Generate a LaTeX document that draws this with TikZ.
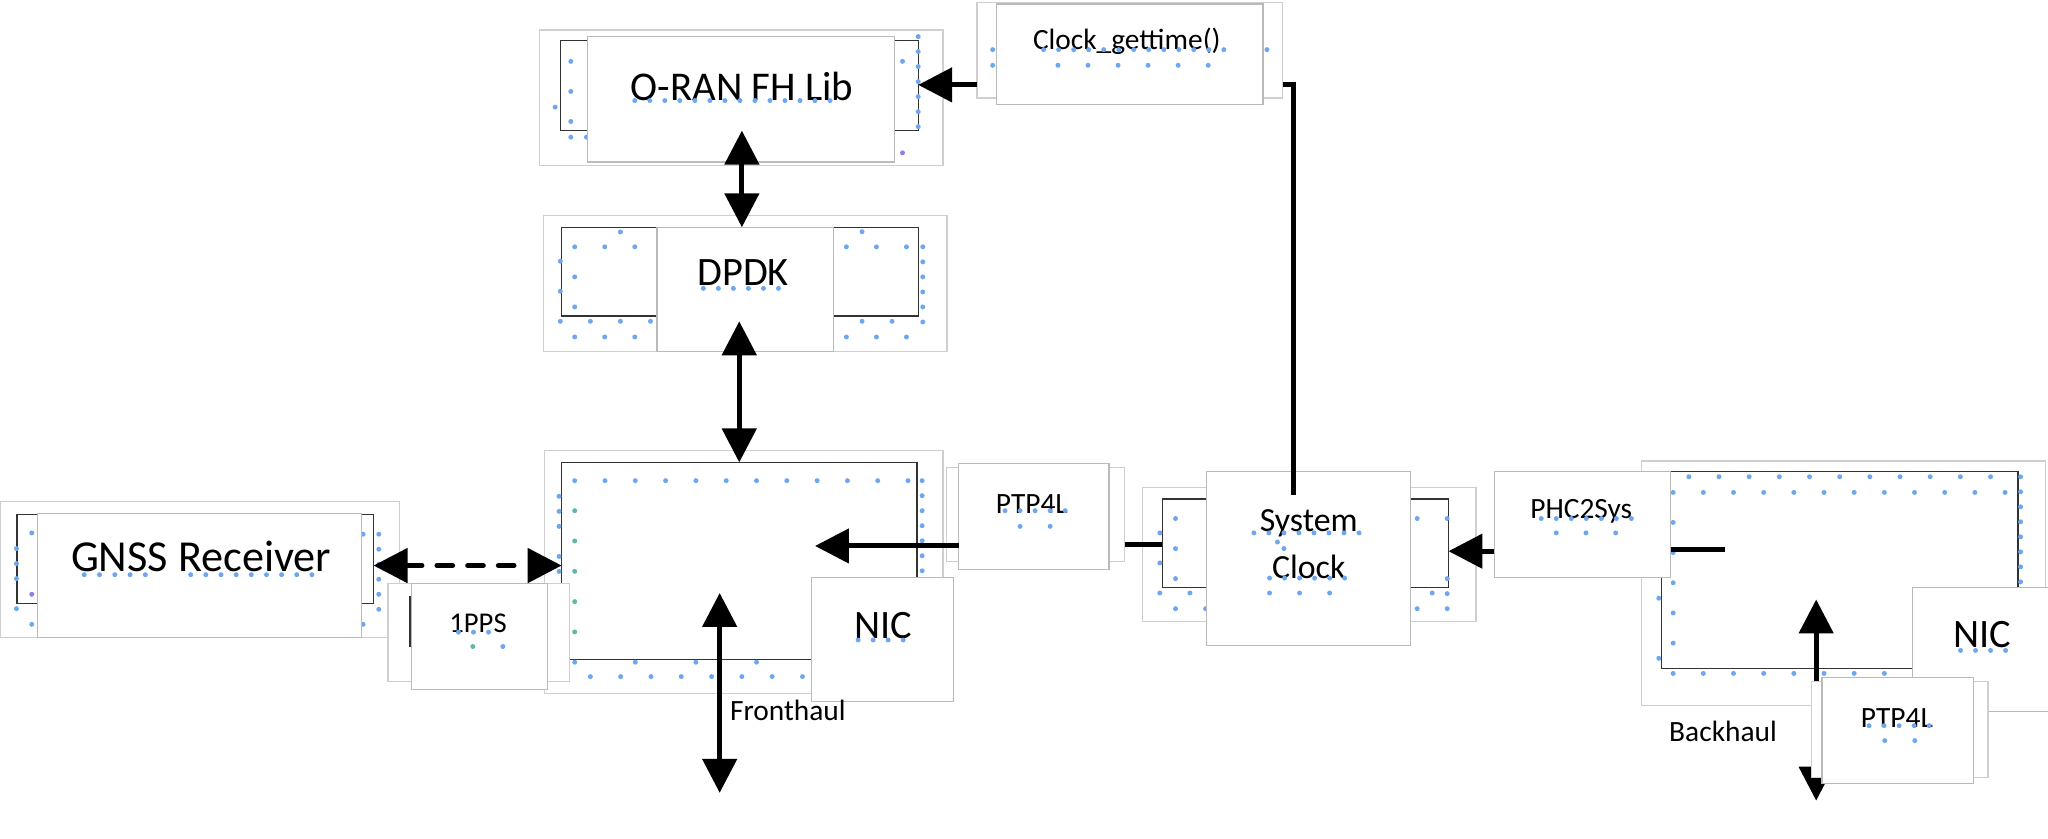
\documentclass[tikz,border=0pt]{standalone}
\usepackage{fontspec}
\setmainfont{Carlito}
\usetikzlibrary{arrows.meta,fit}
\definecolor{dotblue}{HTML}{6FA6F0}
\definecolor{dotteal}{HTML}{5FB8A8}
\definecolor{dotviolet}{HTML}{8C7EEE}
\tikzset{
  every node/.style={outer sep=0pt},
  outerbox/.style={draw=black!19, fill=white, line width=0.9bp, inner sep=0pt},
  labelbox/.style={draw=black!27, fill=white, line width=0.9bp, inner sep=0pt},
  innerbox/.style={draw=black!80, line width=1bp, inner sep=0pt},
  bigtxt/.style={anchor=base, inner sep=0pt, font=\fontsize{31}{36}\selectfont},
  smalltxt/.style={anchor=base, inner sep=0pt, font=\fontsize{22.6}{27}\selectfont},
  conn/.style={line width=3.8bp},
  arrowto/.style={conn, -{Triangle[length=26bp,width=26bp]}},
  arrowboth/.style={conn, {Triangle[length=26bp,width=26bp]}-{Triangle[length=26bp,width=26bp]}},
  dashboth/.style={arrowboth, dash pattern=on 12bp off 11.5bp, line cap=round},
}
\newcommand\dotrun[6][dotblue]{\foreach \i in {0,...,#6}{\fill[#1] ({#2+\i*#4},{#3+\i*#5}) circle (1.9bp);}}
\begin{document}
\begin{tikzpicture}[x=1bp,y=-1bp]
\useasboundingbox (0,0) rectangle (1568,642);

% ---------- O-RAN FH Lib
\node[outerbox, fit={(413,23)(722,127)}] (oranO) {};
\node[innerbox, fit={(429,31)(703,100)}] (oranI) {};
\dotrun{437}{47}{0}{23}{2}
\dotrun{425}{82}{0}{0}{0}
\dotrun{437}{105}{12}{0}{1}
\dotrun{703}{28}{0}{11.5}{6}
\dotrun{691}{47}{0}{0}{0}
\dotrun[dotviolet]{691}{117}{0}{0}{0}
\node[labelbox, fit={(450,28)(685,124)}] (oranW) {};
\node[bigtxt, font=\fontsize{31.4}{36}\selectfont] (oranT) at (568,77) {O-RAN FH Lib};
\dotrun{486}{77}{11.5}{0}{13}

% ---------- Clock_gettime()
\node[outerbox, fit={(748,2)(982,75)}] (clkB) {};
\node[labelbox, fit={(763,3)(967,80)}] (clkF) {};
\node[smalltxt] (clkT) at (862.7,38) {Clock\_gettime()};
\dotrun{760}{38}{0}{0}{0}
\dotrun{799}{38}{11.5}{0}{12}
\dotrun{970}{38}{0}{0}{0}
\dotrun{760}{50}{0}{0}{0}
\dotrun{810}{50}{23}{0}{5}

% ---------- DPDK
\node[outerbox, fit={(416,165)(725,269)}] (dpdkO) {};
\node[innerbox, fit={(430,174)(703,242)}] (dpdkI) {};
\dotrun{475}{177.6}{0}{0}{0}
\dotrun{440}{189}{23}{0}{2}
\dotrun{440}{212}{0}{23}{1}
\dotrun{429}{200}{0}{23}{1}
\dotrun{429}{246}{23}{0}{3}
\dotrun{440}{258}{23}{0}{2}
\dotrun{660}{177.4}{0}{0}{0}
\dotrun{648}{189}{23}{0}{2}
\dotrun{706.5}{189}{0}{11.5}{5}
\dotrun{660}{246}{23}{0}{1}
\dotrun{648}{258}{23}{0}{2}
\node[labelbox, fit={(503,174)(638,269)}] (dpdkW) {};
\node[bigtxt] (dpdkT) at (569,218.5) {DPDK};
\dotrun{538.5}{220.8}{11.5}{0}{5}

% ---------- left NIC group
\node[outerbox, fit={(417,345)(722,531)}] (nicLO) {};
\node[innerbox, fit={(430,354)(702,505)}] (nicLI) {};
\dotrun{440}{368}{23.2}{0}{11}
\dotrun{706}{368}{0}{11.5}{6}
\dotrun{428}{380}{0}{11.5}{2}
\dotrun{428}{426}{0}{11.5}{1}
\dotrun[dotteal]{440}{391}{0}{23.2}{4}
\dotrun{440}{507}{46.4}{0}{3}
\dotrun{452}{518}{23.2}{0}{7}
\node[labelbox, fit={(621,442)(730,537)}] (nicLW) {};
\node[bigtxt] (nicLT) at (676,488.5) {NIC};
\dotrun{657}{490}{11.5}{0}{3}

% ---------- GNSS Receiver
\node[outerbox, fit={(0,384)(306,488)}] (gnO) {};
\node[innerbox, fit={(13,394)(286,462)}] (gnI) {};
\dotrun{24.3}{408}{0}{0}{0}
\dotrun{12.6}{420}{0}{11.5}{2}
\dotrun[dotviolet]{24.3}{455}{0}{0}{0}
\dotrun{12.6}{466}{0}{0}{0}
\dotrun{24.3}{478}{0}{0}{0}
\dotrun{290}{409}{0}{11.5}{5}
\dotrun{278}{409}{0}{69}{1}
\node[labelbox, fit={(29,393)(277,488)}] (gnW) {};
\node[bigtxt, font=\fontsize{34}{40}\selectfont] (gnT) at (154,437.5) {GNSS Receiver};
\dotrun{64.5}{440}{11.7}{0}{4}
\dotrun{146}{440}{11.6}{0}{8}

% ---------- 1PPS
\node[outerbox, fit={(297,447)(436,522)}] (ppsB) {};
\node[innerbox, fit={(314,457)(405,495)}] (ppsI) {};
\node[labelbox, fit={(315,447)(419,528)}] (ppsF) {};
\node[smalltxt, font=\fontsize{22}{26}\selectfont] (ppsT) at (366,484) {1PPS};
\dotrun{351}{484}{11.5}{0}{2}
\dotrun[dotteal]{362}{495}{0}{0}{0}
\dotrun{385}{495}{0}{0}{0}

% ---------- PTP4L (left)
\node[outerbox, fit={(724.5,358)(861,430)}] (ptpLB) {};
\node[labelbox, fit={(734,355)(849,436)}] (ptpLF) {};
\node[smalltxt] (ptpLT) at (790,393) {PTP4L};
\dotrun{769.5}{391}{11.5}{0}{4}
\dotrun{781}{403}{23}{0}{1}

% ---------- System Clock
\node[outerbox, fit={(875,373)(1130,476)}] (sysO) {};
\node[innerbox, fit={(890,382)(1109,450)}] (sysI) {};
\dotrun{900}{397}{0}{23}{2}
\dotrun{888}{408}{0}{23}{2}
\dotrun{911}{454}{0}{0}{0}
\dotrun{900}{466}{23}{0}{1}
\dotrun{1085}{397}{23}{0}{1}
\dotrun{1108}{443}{0}{11.5}{2}
\dotrun{1096.5}{454}{0}{0}{0}
\dotrun{1085}{466}{0}{0}{0}
\node[labelbox, fit={(924,361)(1080,494)}] (sysW) {};
\node[bigtxt, font=\fontsize{26}{30}\selectfont] (sysT1) at (1002,407) {System};
\node[bigtxt, font=\fontsize{26}{30}\selectfont] (sysT2) at (1002,443) {Clock};
\dotrun{960}{408}{11.5}{0}{7}
\dotrun{978}{415}{5}{5}{1}
\dotrun{972}{442.6}{11.5}{0}{5}
\dotrun{972}{454}{23}{0}{2}

% ---------- right NIC group
\node[outerbox, fit={(1257,353)(1566,540)}] (nicRO) {};
\node[innerbox, fit={(1272,361)(1545,512)}] (nicRI) {};
\dotrun{1293}{365}{23.1}{0}{10}
\dotrun{1281}{377}{23.1}{0}{11}
\dotrun{1547}{365}{0}{11.5}{7}
\dotrun{1281}{400}{0}{23.1}{4}
\dotrun{1270}{458}{0}{46}{1}
\dotrun{1281}{515.6}{23.1}{0}{11}
\node[labelbox, fit={(1464,450)(1572,545)}] (nicRW) {};
\node[bigtxt] (nicRT) at (1517.6,495.5) {NIC};
\dotrun{1501}{498}{11.5}{0}{3}

% ---------- PHC2Sys
\node[labelbox, fit={(1144,361)(1279,442)}] (phcW) {};
\node[smalltxt] (phcT) at (1210.6,397) {PHC2Sys};
\dotrun{1180}{397}{11.5}{0}{6}
\dotrun{1191.5}{408}{22.75}{0}{2}

% ---------- connectors
\draw[arrowto] (clkB.west |- 0,65) -- (oranI.east |- 0,65);
\coordinate (sysEnd) at (990,379);
\draw[conn] (clkB.east |- 0,65) -| (sysEnd);
\draw[arrowboth] (oranI.south -| 568,0) -- (dpdkI.north -| 568,0);
\coordinate (dpdkBot) at (566,246);
\draw[arrowboth] (dpdkBot) -- (nicLI.north -| dpdkBot);
\draw[dashboth] (gnI.east |- 0,433) -- (nicLI.west |- 0,433);
\coordinate (nicLtgt) at (624,418);
\draw[arrowto] (ptpLF.west |- nicLtgt) -- (nicLtgt);
\draw[conn] (ptpLB.east |- 0,417) -- (sysI.west |- 0,417);
\draw[arrowto] (phcW.west |- 0,422) -- (sysI.east |- 0,422);
\coordinate (phcEnd) at (1321,421);
\draw[conn] (phcW.east |- phcEnd) -- (phcEnd);
\coordinate (fhTop) at (551,454);
\coordinate (fhBot) at (551,607);
\draw[arrowboth] (fhTop) -- (fhBot);
\coordinate (bhTop) at (1390.5,459);
\coordinate (bhBot) at (1390.5,613);
\draw[arrowboth] (bhTop) -- (bhBot);
\node[smalltxt, anchor=base west] (fhT) at (559,551.8) {Fronthaul};
\node[smalltxt, anchor=base west] (bhT) at (1278,567.9) {Backhaul};

% ---------- PTP4L (right)
\node[outerbox, fit={(1387,522)(1522,595)}] (ptpRB) {};
\node[labelbox, fit={(1395,519)(1511,600)}] (ptpRF) {};
\node[smalltxt] (ptpRT) at (1452.3,557) {PTP4L};
\dotrun{1431}{555.6}{11.5}{0}{4}
\dotrun{1443}{567}{23}{0}{1}
\end{tikzpicture}
\end{document}
